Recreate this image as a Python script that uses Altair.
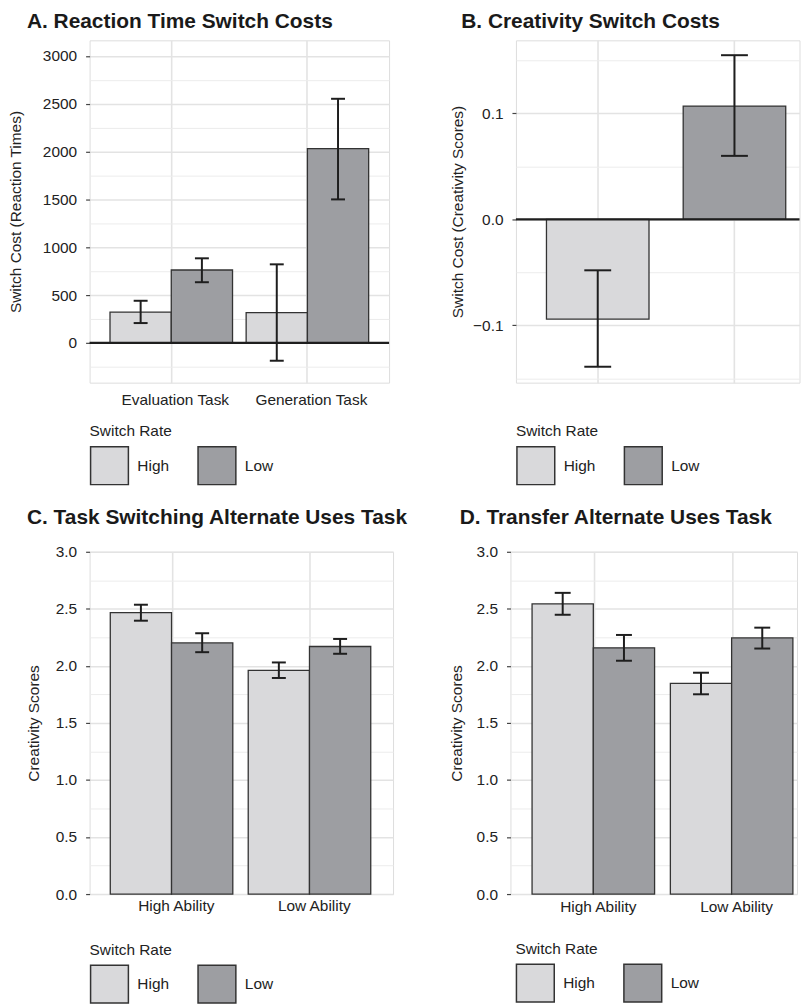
import altair as alt
import pandas as pd

FONT = "Liberation Sans"
TXT = "#222222"
EDGE = "#333333"
ERR = "#1e1e1e"
GRID_MAJOR = "#e3e3e3"
GRID_MINOR = "#ececec"

rates = ["High", "Low"]
rate_colors = ["#d9d9db", "#9d9ea2"]

# ---- Panel A: Reaction time switch costs ----
a_task = ["Evaluation Task", "Evaluation Task", "Generation Task", "Generation Task"]
a_rate = ["High", "Low", "High", "Low"]
a_mean = [322, 762, 315, 2030]
a_low = [207, 634, -187, 1500]
a_high = [440, 884, 821, 2552]
a_ticks = [-250, 0, 250, 500, 750, 1000, 1250, 1500, 1750, 2000, 2250, 2500, 2750, 3000]
a_domain = [-416, 3163]

# ---- Panel B: Creativity switch costs ----
b_rate = ["High", "Low"]
b_mean = [-0.094, 0.107]
b_low = [-0.139, 0.060]
b_high = [-0.048, 0.155]
b_ticks = [-0.15, -0.1, -0.05, 0.0, 0.05, 0.1, 0.15]
b_domain = [-0.154, 0.169]

# ---- Panel C: Task switching AUT ----
c_ability = ["High Ability", "High Ability", "Low Ability", "Low Ability"]
c_rate = ["High", "Low", "High", "Low"]
c_mean = [2.466, 2.201, 1.960, 2.170]
c_low = [2.396, 2.120, 1.894, 2.106]
c_high = [2.536, 2.286, 2.030, 2.236]

# ---- Panel D: Transfer AUT ----
d_ability = ["High Ability", "High Ability", "Low Ability", "Low Ability"]
d_rate = ["High", "Low", "High", "Low"]
d_mean = [2.544, 2.158, 1.847, 2.245]
d_low = [2.448, 2.045, 1.751, 2.152]
d_high = [2.640, 2.271, 1.940, 2.335]

cd_ticks = [0, 0.25, 0.5, 0.75, 1.0, 1.25, 1.5, 1.75, 2.0, 2.25, 2.5, 2.75, 3.0]
cd_domain = [0, 3]

zero_value = [0]


def panel(df, xfield, xsort, grouped, ydomain, yticks, major_test, yfmt, ytitle,
          ytitle_pad, title, title_dx, title_offset, width, height, xlabels,
          xlabel_pad, legend_x, legend_y, cap, zero_line, pad_in, pad_out, align):
    xscale = alt.Scale(paddingInner=pad_in, paddingOuter=pad_out, align=align)
    xaxis = alt.Axis(
        title=None, labels=xlabels, ticks=False, tickSize=0, domain=False,
        grid=True, gridColor=GRID_MAJOR, gridWidth=1.6, bandPosition=0.5,
        labelAngle=0, labelFont=FONT, labelFontSize=15.5, labelColor=TXT,
        labelPadding=xlabel_pad, labelOffset=4,
    )
    x = alt.X(f"{xfield}:N", sort=xsort, scale=xscale, axis=xaxis)
    yaxis = alt.Axis(
        values=yticks, format=yfmt, title=ytitle, titleFont=FONT,
        titleFontSize=15.5, titleFontWeight="normal", titleColor=TXT,
        titlePadding=ytitle_pad, labelFont=FONT, labelFontSize=15.5,
        labelColor=TXT, labelPadding=9, labelOverlap=False,
        labelExpr=f"({major_test}) ? datum.label : ''",
        tickSize=4,
        tickColor={"condition": {"test": major_test, "value": "#444444"}, "value": "transparent"},
        tickWidth=1.2, domain=False, grid=True,
        gridColor={"condition": {"test": major_test, "value": GRID_MAJOR}, "value": GRID_MINOR},
        gridWidth={"condition": {"test": major_test, "value": 1.5}, "value": 1.0},
    )
    yscale = alt.Scale(domain=ydomain, nice=False, zero=False)
    color = alt.Color(
        "rate:N", sort=rates, scale=alt.Scale(domain=rates, range=rate_colors),
        legend=alt.Legend(
            orient="none", legendX=legend_x, legendY=legend_y,
            direction="horizontal", title="Switch Rate", titleFont=FONT,
            titleFontSize=15.5, titleFontWeight="normal", titleColor=TXT,
            titlePadding=6, titleAnchor="start", labelFont=FONT,
            labelFontSize=15.5, labelColor=TXT, labelOffset=8,
            symbolType="square", symbolSize=1444, symbolStrokeColor=EDGE,
            symbolStrokeWidth=1.5, symbolOpacity=1, columnPadding=26,
            padding=0,
        ),
    )
    enc = dict(x=x)
    if grouped:
        enc["xOffset"] = alt.XOffset("rate:N", sort=rates,
                                     scale=alt.Scale(paddingInner=0, paddingOuter=0))
    base = alt.Chart(df)
    bars = base.mark_bar(stroke=EDGE, strokeWidth=1.3, opacity=1).encode(
        y=alt.Y("mean:Q", scale=yscale, axis=yaxis, stack=None, title=ytitle),
        y2=alt.datum(0),
        color=color,
        **enc,
    )
    layers = [bars]
    if zero_line:
        zero = alt.Chart(pd.DataFrame({"zero": zero_value})).mark_rule(
            color=ERR, strokeWidth=2.2
        ).encode(y=alt.Y("zero:Q", scale=yscale, axis=yaxis, title=ytitle))
        layers.append(zero)
    err = base.mark_rule(color=ERR, strokeWidth=2).encode(
        y=alt.Y("low:Q", scale=yscale, axis=yaxis, title=ytitle),
        y2="high:Q",
        **enc,
    )
    cap_lo = base.mark_tick(color=ERR, thickness=2, size=cap, opacity=1).encode(
        y=alt.Y("low:Q", scale=yscale, axis=yaxis, title=ytitle), **enc
    )
    cap_hi = base.mark_tick(color=ERR, thickness=2, size=cap, opacity=1).encode(
        y=alt.Y("high:Q", scale=yscale, axis=yaxis, title=ytitle), **enc
    )
    layers += [err, cap_lo, cap_hi]
    return alt.layer(*layers).properties(
        width=width, height=height,
        title=alt.TitleParams(
            title, anchor="start", frame="group", dx=title_dx,
            offset=title_offset, font=FONT, fontSize=21, fontWeight="bold",
            color="#1a1a1a",
        ),
    )


dfA = pd.DataFrame({"group": a_task, "rate": a_rate, "mean": a_mean,
                    "low": a_low, "high": a_high})
dfB = pd.DataFrame({"rate": b_rate, "mean": b_mean, "low": b_low, "high": b_high})
dfC = pd.DataFrame({"group": c_ability, "rate": c_rate, "mean": c_mean,
                    "low": c_low, "high": c_high})
dfD = pd.DataFrame({"group": d_ability, "rate": d_rate, "mean": d_mean,
                    "low": d_low, "high": d_high})

A = panel(dfA, "group", ["Evaluation Task", "Generation Task"], True, a_domain,
          a_ticks, "datum.value % 500 === 0", "d", "Switch Cost (Reaction Times)",
          19, "A. Reaction Time Switch Costs", -63, 8, 301, 344, True, 10,
          0, 386, 14, True, 0.1, 0.15, 0.5)
B = panel(dfB, "rate", rates, False, b_domain, b_ticks,
          "round(datum.value * 20) % 2 === 0", ".1f",
          "Switch Cost (Creativity Scores)", 7, "B. Creativity Switch Costs",
          -55, 8, 285, 344, False, 10, 0, 386, 27, True, 0.25, 0.162, 0.689)
C = panel(dfC, "group", ["High Ability", "Low Ability"], True, cd_domain,
          cd_ticks, "round(datum.value * 4) % 2 === 0", ".1f",
          "Creativity Scores", 14, "C. Task Switching Alternate Uses Task",
          -63, 17, 305, 344, True, 5, 0, 393, 14, False, 0.1, 0.15, 0.5)
D = panel(dfD, "group", ["High Ability", "Low Ability"], True, cd_domain,
          cd_ticks, "round(datum.value * 4) % 2 === 0", ".1f",
          "Creativity Scores", 12, "D. Transfer Alternate Uses Task",
          -51, 17, 288, 344, True, 6, 5, 392, 16, False, 0.1, 0.086, 0.908)

row1 = alt.hconcat(A, B, spacing=58.5).resolve_scale(color="independent").resolve_legend(color="independent")
row2 = alt.hconcat(C, D, spacing=39).resolve_scale(color="independent").resolve_legend(color="independent")

chart = alt.vconcat(row1, row2, spacing=17).resolve_scale(
    color="independent"
).resolve_legend(color="independent").properties(padding=0).configure_view(
    stroke="#4a4a4a", strokeWidth=1.5
).configure(background="white")

chart.save("out.html", embed_options={"renderer": "svg", "actions": False})
